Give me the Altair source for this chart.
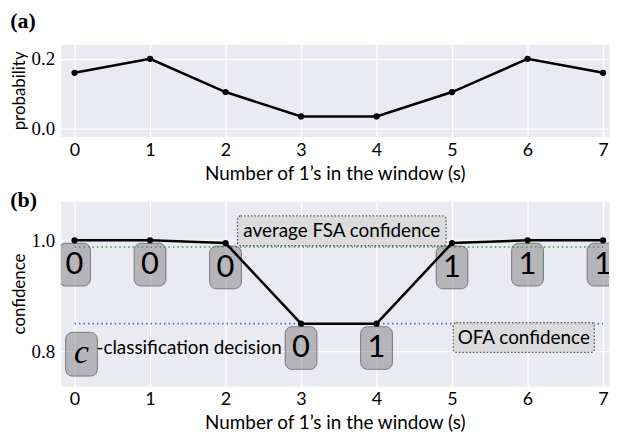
import altair as alt
import pandas as pd

# ---- data ----
s_vals = [0, 1, 2, 3, 4, 5, 6, 7]
prob = [0.16, 0.2, 0.105, 0.035, 0.035, 0.105, 0.2, 0.16]
conf = [1.0, 1.0, 0.995, 0.85, 0.85, 0.995, 1.0, 1.0]
decision = ["0", "0", "0", "0", "1", "1", "1", "1"]
fsa_conf = [0.988]
ofa_conf = [0.85]
rule_span = [0, 7]
fsa_label = ["average FSA confidence"]
fsa_at = [3.54, 1.017]
ofa_label = ["OFA confidence"]
ofa_at = [5.95, 0.825]
legend_at = [0.092, 0.795]
legend_symbol = ["c"]
legend_text = ["-classification decision"]
x_title = "Number of 1\u2019s in the window (s)"

SANS = "Lato"
SERIF = "Liberation Serif"

df_a = pd.DataFrame({"s": s_vals, "p": prob})
df_b = pd.DataFrame({"s": s_vals, "c": conf, "d": decision})

xscale = alt.Scale(domain=[-0.184, 7.079], nice=False, zero=False)


def xaxis():
    return alt.Axis(values=s_vals, format="d", title=x_title, labelFont=SANS,
                    labelFontSize=18, titleFont=SANS, titleFontSize=19,
                    labelPadding=5, titlePadding=5, labelFlush=False)


def yaxis(vals, title):
    return alt.Axis(values=vals, format=".1f", title=title, labelFont=SERIF,
                    labelFontSize=19, titleFont=SANS, titleFontSize=17,
                    labelPadding=6, titlePadding=3)


# ---- panel (a) ----
ya = alt.Y("p:Q", scale=alt.Scale(domain=[-0.0225, 0.242], nice=False, zero=False),
           axis=yaxis([0.0, 0.2], "probability"))
xa = alt.X("s:Q", scale=xscale, axis=xaxis())
base_a = alt.Chart(df_a)
line_a = base_a.mark_line(color="black", strokeWidth=2.5).encode(x=xa, y=ya)
pts_a = base_a.mark_circle(color="black", size=40, opacity=1).encode(x=xa, y=ya)
panel_a = alt.layer(line_a, pts_a).properties(
    width=552, height=93,
    title=alt.TitleParams("(a)", anchor="start", frame="bounds", font=SERIF,
                          fontSize=22, fontWeight="bold", offset=11),
)

# ---- panel (b) ----
yb_scale = alt.Scale(domain=[0.738, 1.0705], nice=False, zero=False)
xb = alt.X("s:Q", scale=xscale, axis=xaxis())
yb = alt.Y("c:Q", scale=yb_scale, axis=yaxis([0.8, 1.0], "confidence"))
base_b = alt.Chart(df_b)

fsa_rule = alt.Chart(pd.DataFrame({"x": [rule_span[0]], "x2": [rule_span[1]], "y": fsa_conf})).mark_rule(
    color="#2ca02c", strokeDash=[1.5, 3], strokeWidth=1.6
).encode(x=alt.X("x:Q", scale=xscale), x2="x2:Q", y=alt.Y("y:Q", scale=yb_scale))
ofa_rule = alt.Chart(pd.DataFrame({"x": [rule_span[0]], "x2": [rule_span[1]], "y": ofa_conf})).mark_rule(
    color="#3b6fd4", strokeDash=[1.5, 3], strokeWidth=1.6
).encode(x=alt.X("x:Q", scale=xscale), x2="x2:Q", y=alt.Y("y:Q", scale=yb_scale))

boxes = base_b.mark_rect(
    cornerRadius=7, fill="#7f7f7f", fillOpacity=0.5, stroke="#555555", clip=True,
    strokeOpacity=0.7, strokeWidth=1, xOffset=-16, x2Offset=16, yOffset=3, y2Offset=46
).encode(x=xb, x2="s:Q", y=yb, y2="c:Q")
box_txt = base_b.mark_text(fontSize=31, font=SANS, dy=25, color="black", baseline="middle", clip=True).encode(
    x=xb, y=yb, text="d:N")

line_b = base_b.mark_line(color="black", strokeWidth=2.5).encode(x=xb, y=yb)
pts_b = base_b.mark_circle(color="black", size=40, opacity=1).encode(x=xb, y=yb)


def note(label, at, hw, hh):
    d = pd.DataFrame({"x": [at[0]], "y": [at[1]], "t": label})
    ch = alt.Chart(d)
    box = ch.mark_rect(
        cornerRadius=3, fill="#d6d6d6", fillOpacity=0.75, stroke="#555555",
        strokeDash=[1.5, 2], strokeWidth=1.3, xOffset=-hw, x2Offset=hw, yOffset=-hh, y2Offset=hh
    ).encode(x=alt.X("x:Q", scale=xscale), x2="x:Q", y=alt.Y("y:Q", scale=yb_scale), y2="y:Q")
    txt = ch.mark_text(fontSize=19, font=SANS, color="black", baseline="middle").encode(
        x=alt.X("x:Q", scale=xscale), y=alt.Y("y:Q", scale=yb_scale), text="t:N")
    return box + txt


fsa_note = note(fsa_label, fsa_at, 105, 15)
ofa_note = note(ofa_label, ofa_at, 71, 15)

leg_df = pd.DataFrame({"x": [legend_at[0]], "y": [legend_at[1]], "c": legend_symbol, "t": legend_text})
leg_ch = alt.Chart(leg_df)
leg_box = leg_ch.mark_rect(
    cornerRadius=7, fill="#7f7f7f", fillOpacity=0.5, stroke="#555555",
    strokeOpacity=0.7, strokeWidth=1, xOffset=-16, x2Offset=16, yOffset=-22, y2Offset=22
).encode(x=alt.X("x:Q", scale=xscale), x2="x:Q", y=alt.Y("y:Q", scale=yb_scale), y2="y:Q")
leg_c = leg_ch.mark_text(fontSize=34, font=SERIF, fontStyle="italic", color="black", baseline="middle", dy=-1).encode(
    x=alt.X("x:Q", scale=xscale), y=alt.Y("y:Q", scale=yb_scale), text="c:N")
leg_t = leg_ch.mark_text(fontSize=19, font=SANS, color="black", baseline="middle", align="left", dx=15, dy=-6).encode(
    x=alt.X("x:Q", scale=xscale), y=alt.Y("y:Q", scale=yb_scale), text="t:N")

panel_b = alt.layer(
    fsa_rule, ofa_rule, fsa_note, ofa_note, boxes, box_txt, line_b, pts_b, leg_box, leg_c, leg_t
).properties(
    width=552, height=186,
    title=alt.TitleParams("(b)", anchor="start", frame="bounds", font=SERIF,
                          fontSize=22, fontWeight="bold", offset=-11),
)

chart = alt.vconcat(panel_a, panel_b, spacing=4).properties(
    padding={"left": 1, "top": 0, "right": 0, "bottom": 0}
).configure_view(
    fill="#eaeaf2", stroke="transparent"
).configure_axis(
    grid=True, gridColor="white", gridWidth=1.3, domain=False, ticks=False,
    labelColor="black", titleColor="black", titleFontWeight="normal"
)

chart.save("out.html", embed_options={"renderer": "svg", "actions": False})
